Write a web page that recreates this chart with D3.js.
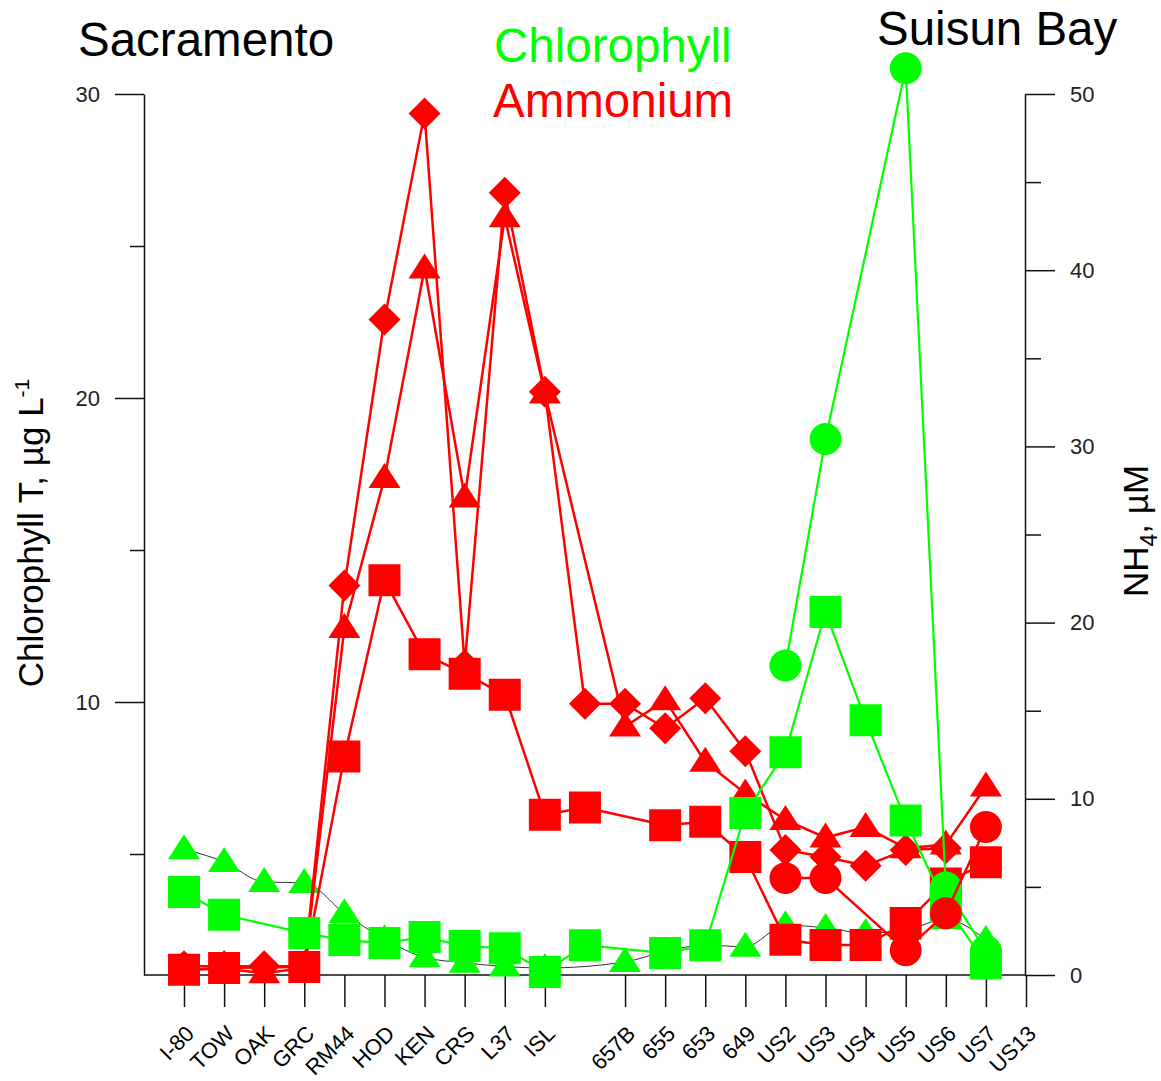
<!DOCTYPE html>
<html>
<head>
<meta charset="utf-8">
<script src="https://cdn.jsdelivr.net/npm/d3@7"></script>
<style>
  body { margin: 0; background: #fff; }
  text { font-family: "Liberation Sans", Arial, sans-serif; }
</style>
</head>
<body>
<div class="canvaChart"></div>
<script>
// stations along the transect (one unlabeled station between ISL and 657B)
const stations = ["I-80","TOW","OAK","GRC","RM44","HOD","KEN","CRS","L37","ISL","","657B","655","653","649","US2","US3","US4","US5","US6","US7","US13"];

// chlorophyll (left axis, ug/L) - green
const chlTriangle = [5.16,4.74,4.08,4.05,3.05,2.2,1.6,1.42,1.3,1.25,null,1.45,1.8,2.0,1.95,2.66,2.57,2.4,2.5,2.85,2.17,null];
const chlSquare   = [3.75,3.0,null,2.4,2.17,2.07,2.27,1.97,1.9,1.12,2.0,null,1.74,2.0,6.35,8.35,12.96,9.4,6.1,3.3,1.4,null];
const chlCircle   = [null,null,null,null,null,null,null,null,null,null,null,null,null,null,null,11.2,18.65,null,30.85,3.9,1.8,null];

// ammonium (right axis, uM) - red
const nh4Square   = [0.3,0.4,null,0.45,12.4,22.4,18.2,17.1,15.9,9.1,9.5,null,8.5,8.7,6.7,2.0,1.7,1.7,2.95,5.2,6.4,null];
const nh4Triangle = [0.3,0.35,0.1,0.4,19.7,28.2,40.1,27.1,43.0,33.0,null,14.1,15.6,12.1,10.3,8.8,7.8,8.4,7.2,7.4,10.7,null];
const nh4Diamond  = [0.5,0.5,0.5,0.5,22.1,37.2,48.9,17.6,44.4,33.1,15.4,15.4,14.0,15.7,12.7,7.1,6.7,6.2,7.1,7.2,null,null];
const nh4Circle   = [null,null,null,null,null,null,null,null,null,null,null,null,null,null,null,5.5,5.5,null,1.4,3.5,8.4,null];

const chlTicks = [10, 20, 30];
const chlMinor = [5, 15, 25];
const nh4Ticks = [0, 10, 20, 30, 40, 50];
const nh4Minor = [5, 15, 25, 35, 45];

const W = 1161, H = 1081;
const plotLeft = 144, plotRight = 1025, plotTop = 94, plotBottom = 975;
const GREEN = "#00ff00", RED = "#ff0000";

const svg = d3.select(".canvaChart").append("svg")
  .attr("width", W).attr("height", H)
  .style("background", "#fff");

const x = d3.scalePoint().domain(stations).range([plotLeft + 40, plotRight + 1]);
const yChl = d3.scaleLinear().domain([1.02, 30]).range([plotBottom, plotTop]);
const yNh4 = d3.scaleLinear().domain([0, 50]).range([plotBottom, plotTop]);

// ---- axes ----
function styleAxis(g, size) {
  g.selectAll("path, line").attr("stroke", "#111").attr("stroke-width", 1.5);
  g.selectAll("text").attr("fill", "#222").style("font-size", size + "px")
    .style("font-family", "'Liberation Sans', Arial, sans-serif");
}

const left = svg.append("g").attr("transform", `translate(${plotLeft},0)`)
  .call(d3.axisLeft(yChl).tickValues(chlTicks).tickSize(29).tickSizeOuter(0).tickPadding(15));
styleAxis(left, 22);
const leftMinor = svg.append("g").attr("transform", `translate(${plotLeft},0)`)
  .call(d3.axisLeft(yChl).tickValues(chlMinor).tickSize(14).tickFormat(""));
leftMinor.select(".domain").remove();
styleAxis(leftMinor, 22);

const right = svg.append("g").attr("transform", `translate(${plotRight},0)`)
  .call(d3.axisRight(yNh4).tickValues(nh4Ticks).tickSize(30).tickSizeOuter(0).tickPadding(15));
styleAxis(right, 22);
const rightMinor = svg.append("g").attr("transform", `translate(${plotRight},0)`)
  .call(d3.axisRight(yNh4).tickValues(nh4Minor).tickSize(16).tickFormat(""));
rightMinor.select(".domain").remove();
styleAxis(rightMinor, 22);

const bottom = svg.append("g").attr("transform", `translate(0,${plotBottom})`)
  .call(d3.axisBottom(x).tickValues(stations.filter(s => s !== "")).tickSize(32));
bottom.select(".domain").remove();
styleAxis(bottom, 22);
bottom.selectAll("text")
  .attr("y", null).attr("dy", null).attr("fill", "#000")
  .attr("text-anchor", "end")
  .attr("transform", "translate(11,60) rotate(-45)");

svg.append("line")
  .attr("x1", plotLeft).attr("x2", plotRight)
  .attr("y1", plotBottom).attr("y2", plotBottom)
  .attr("stroke", "#111").attr("stroke-width", 1.5);

// ---- series ----
const shapes = {
  square: d3.symbol(d3.symbolSquare, 1024)(),
  circle: d3.symbol(d3.symbolCircle, 800)(),
  diamond: "M0,-16L16,0L0,16L-16,0Z",
  triangle: "M0,-15L16,10L-16,10Z"
};

function drawSeries(values, yScale, color, lineColor, lineWidth, shape, curve) {
  const pts = values.map((v, i) => ({ s: stations[i], v })).filter(d => d.v !== null);
  const line = d3.line().x(d => x(d.s)).y(d => yScale(d.v));
  if (curve) line.curve(curve);
  svg.append("path").datum(pts)
    .attr("d", line)
    .attr("fill", "none")
    .attr("stroke", lineColor)
    .attr("stroke-width", lineWidth);
  svg.append("g").selectAll("path").data(pts).enter().append("path")
    .attr("d", shapes[shape])
    .attr("transform", d => `translate(${x(d.s)},${yScale(d.v)})`)
    .attr("fill", color);
}

drawSeries(chlTriangle, yChl, GREEN, "#333", 1, "triangle", d3.curveMonotoneX);
drawSeries(nh4Square, yNh4, RED, RED, 2.5, "square");
drawSeries(nh4Triangle, yNh4, RED, RED, 2.5, "triangle");
drawSeries(nh4Diamond, yNh4, RED, RED, 2.5, "diamond");
drawSeries(chlSquare, yChl, GREEN, GREEN, 2.2, "square");
drawSeries(chlCircle, yChl, GREEN, GREEN, 2.2, "circle");
drawSeries(nh4Circle, yNh4, RED, RED, 2.5, "circle");

// ---- titles ----
svg.append("text").attr("x", 78).attr("y", 56).style("font-size", "47.5px").attr("fill", "#000").text("Sacramento");
svg.append("text").attr("x", 877).attr("y", 45).style("font-size", "47.5px").attr("fill", "#000").text("Suisun Bay");
svg.append("text").attr("x", 494).attr("y", 62).style("font-size", "47.5px").attr("fill", GREEN).text("Chlorophyll");
svg.append("text").attr("x", 493).attr("y", 117).style("font-size", "47.5px").attr("fill", RED).text("Ammonium");

const yl = svg.append("text")
  .attr("transform", "translate(43,533) rotate(-90)")
  .attr("text-anchor", "middle")
  .style("font-size", "35px").attr("fill", "#000");
yl.append("tspan").text("Chlorophyll T, µg L");
yl.append("tspan").attr("dy", -14).style("font-size", "21px").text("-1");

const yr = svg.append("text")
  .attr("transform", "translate(1148,531) rotate(-90)")
  .attr("text-anchor", "middle")
  .style("font-size", "35px").attr("fill", "#000");
yr.append("tspan").text("NH");
yr.append("tspan").attr("dy", 9).style("font-size", "23px").text("4");
yr.append("tspan").attr("dy", -9).text(", µM");
</script>
</body>
</html>
